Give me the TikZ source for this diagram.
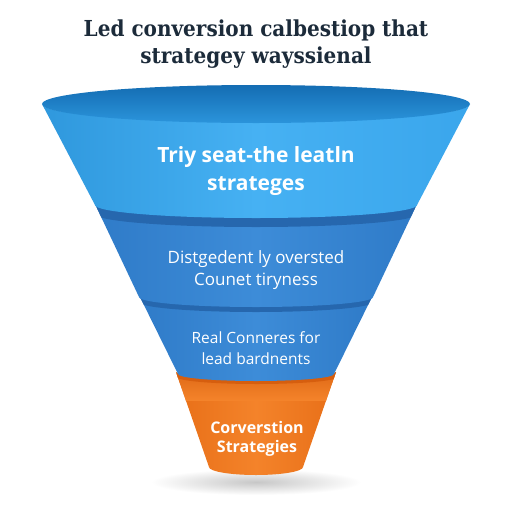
\documentclass[tikz,border=0pt]{standalone}
\usepackage{fontspec}
\setmainfont{Open Sans}
\newfontfamily\titlefont{DejaVu Serif}
\newfontfamily\layerfont{Open Sans}
\definecolor{titlecol}{HTML}{1C2B3A}
\definecolor{lOneA}{HTML}{2F98DD}
\definecolor{lOneB}{HTML}{46B1F3}
\definecolor{lOneC}{HTML}{3AA6EC}
\definecolor{rimA}{HTML}{146DB3}
\definecolor{rimB}{HTML}{2B94DB}
\definecolor{lTwoA}{HTML}{2F7BC8}
\definecolor{lTwoB}{HTML}{3D8CD8}
\definecolor{bandBlue}{HTML}{2667AE}
\definecolor{orA}{HTML}{E86F18}
\definecolor{orB}{HTML}{F4832A}
\definecolor{orBand}{HTML}{D65E0E}
\tikzset{
  titletext/.style={anchor=base, text=titlecol, font=\titlefont\bfseries\fontsize{22}{27}\selectfont},
  lonetext/.style={anchor=base, text=white, font=\layerfont\bfseries\fontsize{21}{28}\selectfont},
  ltwotext/.style={anchor=base, text=white, font=\layerfont\fontsize{17}{22}\selectfont},
  lthreetext/.style={anchor=base, text=white, font=\layerfont\fontsize{15.5}{21}\selectfont},
  lfourtext/.style={anchor=base, text=white, font=\layerfont\bfseries\fontsize{16}{19}\selectfont},
}
% layer path: top centre y, top rx, top ry, bottom centre y, bottom rx, bottom ry
\newcommand{\layerpath}[6]{(256-#2,#1) arc[start angle=180,end angle=0,x radius=#2,y radius=#3] -- (256+#5,#4) arc[start angle=0,end angle=180,x radius=#5,y radius=#6] -- cycle}
\begin{document}
\begin{tikzpicture}[x=1pt,y=-1pt]
\useasboundingbox (0,0) rectangle (512,512);
\fill[white] (0,0) rectangle (512,512);
% shadow
\shade[inner color=black!22, outer color=white] (256,482) ellipse[x radius=105, y radius=13];
% layer 4 (orange)
\shade[left color=orA, right color=orA, middle color=orB] \layerpath{372}{80}{7}{467}{47}{8};
\begin{scope}
  \clip \layerpath{372}{80}{7}{467}{47}{8};
  \shade[top color=orBand, bottom color=orB] (176,360) rectangle (337,400);
  \fill[orBand] (176,360) -- (337,360) -- (337,377) arc[start angle=0,end angle=180,x radius=80,y radius=7] -- cycle;
\end{scope}
% layer 3
\shade[left color=lTwoA, right color=lTwoA, middle color=lTwoB] \layerpath{295}{117}{10}{374}{78}{7};
\begin{scope}
  \clip \layerpath{295}{117}{10}{374}{78}{7};
  \fill[bandBlue] (139,280) -- (373,280) -- (373,302) arc[start angle=0,end angle=180,x radius=117,y radius=10] -- cycle;
\end{scope}
% layer 2
\shade[left color=lTwoA, right color=lTwoA, middle color=lTwoB] \layerpath{204}{161}{13}{297}{117}{10};
\begin{scope}
  \clip \layerpath{204}{161}{13}{297}{117}{10};
  \fill[bandBlue] (95,185) -- (417,185) -- (417,214) arc[start angle=0,end angle=180,x radius=161,y radius=13] -- cycle;
\end{scope}
% layer 1
\shade[left color=lOneA, right color=lOneC, middle color=lOneB] \layerpath{104}{214}{18}{205}{161}{13};
\shade[top color=rimA, bottom color=rimB] (256,104) ellipse[x radius=214, y radius=19];
% title
\node[titletext] (ttla) at (256,36) {\scalebox{0.91}[1]{Led conversion calbestiop that}};
\node[titletext] (ttlb) at (256,63) {\scalebox{0.91}[1]{strategey wayssienal}};
% layer texts
\node[lonetext] (la) at (256,162) {Triy seat-the leatln};
\node[lonetext] (lb) at (256,190) {strateges};
\node[ltwotext] (ma) at (256,263) {Distgedent ly oversted};
\node[ltwotext] (mb) at (256,285) {Counet tiryness};
\node[lthreetext] (na) at (256,343) {Real Conneres for};
\node[lthreetext] (nb) at (256,364) {lead bardnents};
\node[lfourtext] (oa) at (257,433) {Corverstion};
\node[lfourtext] (ob) at (257,452) {Strategies};
\end{tikzpicture}
\end{document}
